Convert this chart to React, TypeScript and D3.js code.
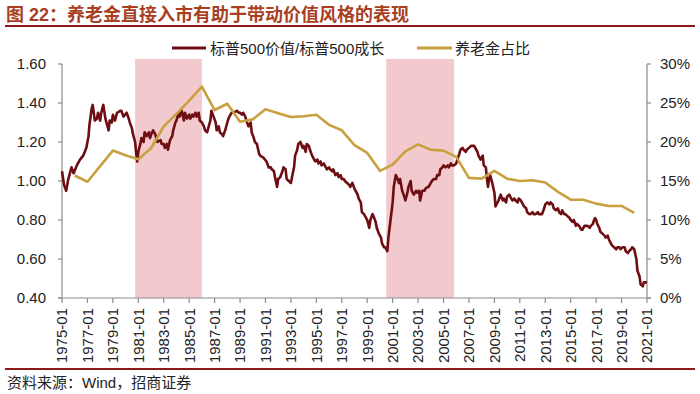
import React from "react";
import * as d3 from "d3";

// ---- Data ----
const ratioDates: string[] = [
  "1975-01","1975-03","1975-05","1975-07","1975-10","1975-12","1976-03","1976-06","1976-09","1976-12",
  "1977-02","1977-03","1977-05","1977-06","1977-07","1977-08","1977-10","1977-11","1978-01","1978-02",
  "1978-04","1978-06","1978-07","1978-09","1978-10","1978-12","1979-01","1979-03","1979-05","1979-08",
  "1979-09","1979-11","1980-02","1980-04","1980-05","1980-07","1980-08","1980-10","1980-11","1980-12",
  "1981-01","1981-03","1981-04","1981-06","1981-07","1981-09","1981-11","1981-12","1982-02","1982-03",
  "1982-05","1982-07","1982-10","1982-11","1983-01","1983-02","1983-04","1983-05","1983-07","1983-09",
  "1983-10","1983-12","1984-01","1984-03","1984-04","1984-06","1984-08","1984-09","1984-11","1985-01",
  "1985-02","1985-04","1985-05","1985-07","1985-08","1985-10","1985-11","1986-01","1986-03","1986-04",
  "1986-06","1986-07","1986-09","1986-10","1986-12","1987-02","1987-03","1987-05","1987-06","1987-08",
  "1987-09","1987-11","1988-01","1988-02","1988-04","1988-05","1988-07","1988-10","1988-12","1989-01",
  "1989-03","1989-04","1989-06","1989-07","1989-09","1989-11","1989-12","1990-02","1990-03","1990-05",
  "1990-07","1990-08","1990-11","1991-02","1991-04","1991-06","1991-07","1991-09","1991-10","1991-12",
  "1992-01","1992-03","1992-05","1992-06","1992-08","1992-09","1992-11","1993-01","1993-02","1993-04",
  "1993-05","1993-07","1993-08","1993-10","1993-12","1994-01","1994-03","1994-04","1994-06","1994-07",
  "1994-09","1994-11","1994-12","1995-02","1995-03","1995-05","1995-06","1995-08","1995-10","1995-11",
  "1996-01","1996-02","1996-04","1996-05","1996-07","1996-09","1996-10","1996-12","1997-01","1997-03",
  "1997-04","1997-06","1997-08","1997-09","1997-11","1998-01","1998-02","1998-04","1998-05","1998-07",
  "1998-08","1998-10","1998-11","1999-01","1999-03","1999-04","1999-06","1999-07","1999-09","1999-10",
  "1999-12","2000-02","2000-03","2000-05","2000-06","2000-08","2000-09","2000-11","2001-01","2001-02",
  "2001-04","2001-05","2001-07","2001-08","2001-10","2001-12","2002-01","2002-03","2002-04","2002-06",
  "2002-07","2002-09","2002-11","2002-12","2003-02","2003-03","2003-05","2003-07","2003-08","2003-10",
  "2003-11","2004-01","2004-02","2004-04","2004-06","2004-07","2004-09","2004-10","2004-12","2005-01",
  "2005-03","2005-05","2005-06","2005-08","2005-09","2005-11","2006-01","2006-02","2006-04","2006-05",
  "2006-07","2006-08","2006-10","2006-11","2007-01","2007-03","2007-04","2007-06","2007-07","2007-09",
  "2007-10","2007-12","2008-02","2008-03","2008-05","2008-06","2008-07","2008-08","2008-09","2008-10",
  "2008-11","2009-01","2009-02","2009-04","2009-05","2009-07","2009-09","2009-10","2009-12","2010-01",
  "2010-03","2010-04","2010-06","2010-08","2010-09","2010-11","2010-12","2011-02","2011-03","2011-05",
  "2011-07","2011-08","2011-10","2011-11","2012-01","2012-02","2012-04","2012-06","2012-07","2012-09",
  "2012-10","2012-12","2013-01","2013-03","2013-05","2013-06","2013-08","2013-09","2013-11","2014-01",
  "2014-02","2014-04","2014-05","2014-07","2014-08","2014-10","2014-12","2015-01","2015-03","2015-04",
  "2015-06","2015-07","2015-09","2015-11","2015-12","2016-02","2016-03","2016-05","2016-07","2016-08",
  "2016-10","2016-11","2016-12","2017-01","2017-02","2017-04","2017-05","2017-07","2017-09","2017-10",
  "2017-12","2018-01","2018-03","2018-04","2018-06","2018-08","2018-09","2018-11","2018-12","2019-02",
  "2019-04","2019-05","2019-07","2019-08","2019-10","2019-11","2020-01","2020-03","2020-04","2020-06",
  "2020-07","2020-09","2020-10","2020-12","2021-01"
];
const ratioValues: number[] = [
  1.05,0.98,0.95,1.01,1.07,1.04,1.08,1.11,1.13,1.17,
  1.23,1.29,1.37,1.39,1.35,1.31,1.32,1.35,1.31,1.35,
  1.39,1.32,1.30,1.26,1.31,1.30,1.34,1.31,1.35,1.36,
  1.36,1.33,1.35,1.32,1.30,1.27,1.24,1.20,1.14,1.10,
  1.15,1.19,1.22,1.20,1.25,1.23,1.25,1.22,1.25,1.26,
  1.24,1.20,1.21,1.19,1.19,1.17,1.19,1.16,1.21,1.23,
  1.26,1.30,1.31,1.35,1.33,1.36,1.31,1.35,1.32,1.34,
  1.32,1.34,1.33,1.35,1.33,1.35,1.31,1.30,1.28,1.26,
  1.25,1.27,1.31,1.36,1.33,1.30,1.26,1.28,1.25,1.24,
  1.23,1.26,1.30,1.32,1.34,1.35,1.35,1.36,1.35,1.35,
  1.34,1.35,1.33,1.31,1.28,1.30,1.25,1.22,1.20,1.19,
  1.14,1.13,1.12,1.10,1.07,1.07,1.06,1.05,1.02,0.97,
  1.01,1.02,1.05,1.07,1.06,1.01,1.00,0.99,1.02,1.07,
  1.13,1.16,1.19,1.20,1.17,1.18,1.15,1.19,1.18,1.16,
  1.13,1.11,1.10,1.11,1.09,1.10,1.08,1.09,1.07,1.06,
  1.07,1.06,1.05,1.06,1.03,1.04,1.02,1.03,1.01,1.01,
  1.00,0.99,0.98,0.97,0.99,0.96,0.95,0.93,0.91,0.89,
  0.84,0.83,0.82,0.80,0.76,0.80,0.83,0.82,0.79,0.76,
  0.73,0.71,0.68,0.66,0.66,0.64,0.71,0.80,0.89,0.97,
  1.03,1.02,0.99,1.01,0.95,0.92,0.90,0.94,0.97,1.00,
  0.95,0.93,0.95,0.94,0.95,0.90,0.95,0.95,0.96,0.97,
  0.97,0.99,1.00,1.01,1.01,1.03,1.03,1.06,1.07,1.08,
  1.07,1.08,1.07,1.09,1.08,1.08,1.09,1.11,1.14,1.16,
  1.17,1.16,1.15,1.16,1.17,1.18,1.18,1.18,1.17,1.15,
  1.13,1.11,1.13,1.08,1.07,1.01,0.97,1.01,1.03,1.01,
  0.99,0.94,0.87,0.89,0.90,0.93,0.90,0.91,0.89,0.92,
  0.93,0.92,0.90,0.91,0.90,0.89,0.91,0.90,0.89,0.87,
  0.86,0.84,0.83,0.83,0.84,0.83,0.83,0.84,0.83,0.83,
  0.83,0.86,0.88,0.89,0.88,0.89,0.88,0.86,0.85,0.86,
  0.84,0.83,0.85,0.83,0.83,0.82,0.81,0.80,0.79,0.80,
  0.77,0.78,0.77,0.75,0.75,0.77,0.77,0.77,0.76,0.77,
  0.78,0.80,0.81,0.80,0.78,0.76,0.74,0.73,0.72,0.71,
  0.72,0.70,0.68,0.67,0.66,0.65,0.66,0.66,0.65,0.66,
  0.66,0.64,0.63,0.64,0.65,0.66,0.65,0.60,0.54,0.51,
  0.47,0.46,0.48,0.48,0.48
];

const pensionYears: number[] = [
  1976,1977,1978,1979,1980,1981,1982,1983,1984,1985,1986,1987,1988,1989,1990,
  1991,1992,1993,1994,1995,1996,1997,1998,1999,2000,2001,2002,2003,2004,2005,
  2006,2007,2008,2009,2010,2011,2012,2013,2014,2015,2016,2017,2018,2019,2020
];
const pensionShare: number[] = [
  15.7,14.9,16.9,18.9,18.3,17.8,19.2,22.0,23.6,25.3,27.1,24.1,24.9,22.6,22.9,
  24.2,23.7,23.2,23.3,23.5,22.2,21.5,19.6,18.6,16.3,17.1,18.8,19.7,19.0,18.9,
  18.1,15.4,15.3,16.3,15.3,15.0,15.1,14.8,13.6,12.6,12.6,12.1,11.8,11.8,10.9
];

const shadePeriods: [string, string][] = [
  ["1980-10", "1986-01"],
  ["2000-07", "2005-11"]
];

const leftTicks: number[] = [0.4, 0.6, 0.8, 1.0, 1.2, 1.4, 1.6];
const rightTicks: number[] = [0, 5, 10, 15, 20, 25, 30];
const xTickYears: number[] = [1975,1977,1979,1981,1983,1985,1987,1989,1991,1993,1995,1997,1999,2001,2003,2005,2007,2009,2011,2013,2015,2017,2019,2021];

const titleText = "图 22：养老金直接入市有助于带动价值风格的表现";
const legendRatio = "标普500价值/标普500成长";
const legendPension = "养老金占比";
const sourceText = "资料来源：Wind，招商证券";

// ---- Styles ----
const W = 700, H = 394;
const PL = 62, PR = 647, PT = 64, PB = 298, SHADE_TOP = 59;
const RED = "#6E0E12";
const GOLD = "#C9A040";
const SHADE = "#F2C9CC";
const AXIS = "#8C8C8C";
const TITLE = "#A8401F";
const RULE = "#8B1A1A";
const FONT = "'Liberation Sans', Arial, 'Noto Sans CJK SC', sans-serif";

export default function App() {
  const parse = d3.timeParse("%Y-%m");
  const x = d3.scaleTime().domain([new Date(1975, 0, 1), new Date(2021, 0, 1)]).range([PL, PR]);
  const yL = d3.scaleLinear().domain([0.4, 1.6]).range([PB, PT]);
  const yR = d3.scaleLinear().domain([0, 30]).range([PB, PT]);

  const ratio = ratioDates.map((d, i) => ({ d: parse(d) as Date, v: ratioValues[i] }));
  const pension = pensionYears.map((yr, i) => ({ d: new Date(yr, 0, 1), v: pensionShare[i] }));

  const ratioLine = d3.line<{ d: Date; v: number }>().x(p => x(p.d)).y(p => yL(p.v)).curve(d3.curveLinear);
  const pensionLine = d3.line<{ d: Date; v: number }>().x(p => x(p.d)).y(p => yR(p.v));

  return (
    <svg width={W} height={H} style={{ position: "absolute", left: 0, top: 0, background: "#fff" }} fontFamily={FONT}>
      <rect x={0} y={0} width={W} height={H} fill="#fff" />
      {/* Title */}
      <text x={6} y={21} fontSize={18} fontWeight="bold" fill={TITLE} fontFamily="'Liberation Sans', 'Noto Sans CJK SC', sans-serif">{titleText}</text>
      <line x1={5} x2={695} y1={26} y2={26} stroke={RULE} strokeWidth={2} />

      {/* Shading */}
      {shadePeriods.map(([a, b], i) => {
        const x0 = x(parse(a) as Date), x1 = x(parse(b) as Date);
        return <rect key={i} x={x0} y={SHADE_TOP} width={x1 - x0} height={PB - SHADE_TOP} fill={SHADE} />;
      })}

      {/* Legend */}
      <line x1={172} x2={206} y1={48} y2={48} stroke={RED} strokeWidth={3} />
      <text x={210} y={53.5} fontSize={15} fill="#222">{legendRatio}</text>
      <line x1={417} x2={452} y1={48} y2={48} stroke={GOLD} strokeWidth={3} />
      <text x={455} y={53.5} fontSize={15} fill="#222">{legendPension}</text>

      {/* Axes */}
      <line x1={PL} x2={PL} y1={PT} y2={PB} stroke={AXIS} strokeWidth={1.2} />
      <line x1={PR} x2={PR} y1={PT} y2={PB} stroke={AXIS} strokeWidth={1.2} />
      <line x1={PL - 4} x2={PR + 4} y1={PB} y2={PB} stroke={AXIS} strokeWidth={1.2} />
      {leftTicks.map(t => (
        <g key={"l" + t}>
          <line x1={PL - 4} x2={PL} y1={yL(t)} y2={yL(t)} stroke={AXIS} strokeWidth={1.2} />
          <text x={46} y={yL(t)} dy="0.36em" textAnchor="end" fontSize={15} fill="#222">{t.toFixed(2)}</text>
        </g>
      ))}
      {rightTicks.map(t => (
        <g key={"r" + t}>
          <line x1={PR} x2={PR + 4} y1={yR(t)} y2={yR(t)} stroke={AXIS} strokeWidth={1.2} />
          <text x={660} y={yR(t)} dy="0.36em" textAnchor="start" fontSize={15} fill="#222">{t + "%"}</text>
        </g>
      ))}
      {xTickYears.map(yr => {
        const xx = x(new Date(yr, 0, 1));
        return (
          <g key={"x" + yr}>
            <line x1={xx} x2={xx} y1={PB} y2={PB + 5} stroke={AXIS} strokeWidth={1.2} />
            <text transform={`translate(${xx},${PB + 10}) rotate(-90)`} dy="0.36em" textAnchor="end" fontSize={15} fill="#222">{yr + "-01"}</text>
          </g>
        );
      })}

      {/* Lines */}
      <path d={ratioLine(ratio) || ""} fill="none" stroke={RED} strokeWidth={2.6} strokeLinejoin="round" />
      <path d={pensionLine(pension) || ""} fill="none" stroke={GOLD} strokeWidth={2.6} strokeLinejoin="round" />

      {/* Source */}
      <line x1={5} x2={695} y1={369} y2={369} stroke={RULE} strokeWidth={2} />
      <text x={7} y={388} fontSize={15} fill="#222">{sourceText}</text>
    </svg>
  );
}
